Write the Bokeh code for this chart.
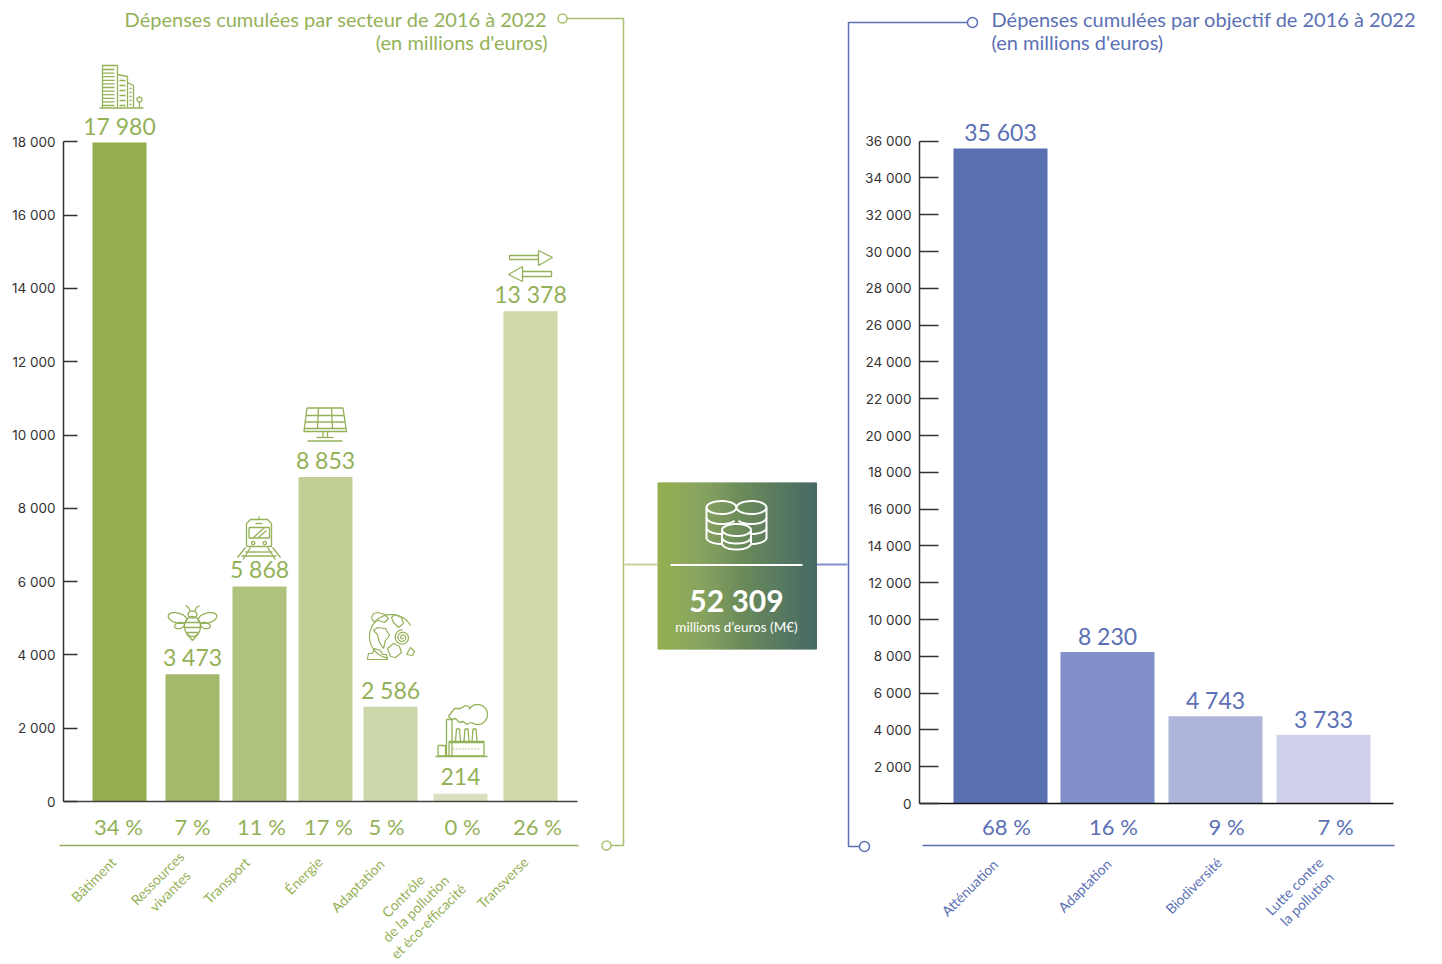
import numpy as np
from bokeh.core.properties import value
from bokeh.embed import file_html
from bokeh.models import FixedTicker, LinearAxis, Range1d
from bokeh.plotting import figure
from bokeh.resources import INLINE

# Spending per sector, millions of euros
sectors = ["Bâtiment", "Ressources\nvivantes", "Transport", "Énergie", "Adaptation",
           "Contrôle\nde la pollution\net éco-efficacité", "Transverse"]
sector_values = [17980, 3473, 5868, 8853, 2586, 214, 13378]
sector_labels = ["17 980", "3 473", "5 868", "8 853", "2 586", "214", "13 378"]
sector_shares = ["34 %", "7 %", "11 %", "17 %", "5 %", "0 %", "26 %"]
sector_ticks = [0, 2000, 4000, 6000, 8000, 10000, 12000, 14000, 16000, 18000]

# Spending per objective, millions of euros
objectives = ["Atténuation", "Adaptation", "Biodiversité", "Lutte contre\nla pollution"]
objective_values = [35603, 8230, 4743, 3733]
objective_labels = ["35 603", "8 230", "4 743", "3 733"]
objective_shares = ["68 %", "16 %", "9 %", "7 %"]
objective_ticks = list(range(0, 36001, 2000))

total_label = "52 309"

W, H = 1442, 964
GREEN, BLUE = "#94b158", "#5b70b5"
FONT = "Lato"
TICK_FONT = "Inter"
sector_colors = ["#94ae4f", "#a5b96c", "#b0c37e", "#c1cf97", "#cbd6a9", "#d9e0c0", "#d0d7a9"]
objective_colors = ["#5b6fb3", "#8190c8", "#afb4da", "#cfd1ea"]

# Layout in page pixels
sector_x = [119, 192, 259, 325, 390, 460, 530]
sector_share_x = [118, 192, 261, 328, 386, 462, 537]
sector_name_x = [93, 163, 226, 303, 357, 415, 502]
sector_name_y = [879, 884, 880, 875, 885, 908, 882]
objective_x = [1000, 1107, 1215, 1323]
objective_share_x = [1006, 1113, 1226, 1335]
objective_name_x = [969, 1084, 1193, 1300]
objective_name_y = [887, 885, 885, 892]
LEFT_ZERO, LEFT_SCALE = 801, 0.03665
RIGHT_ZERO, RIGHT_SCALE = 803, 0.0184

p = figure(width=W, height=H, output_backend="svg", toolbar_location=None,
           x_range=Range1d(0, W), y_range=Range1d(H, 0),
           x_axis_location=None, y_axis_location=None,
           min_border=0, min_border_left=0, min_border_right=0,
           min_border_top=0, min_border_bottom=0, outline_line_color=None)
p.grid.visible = False
p.extra_y_ranges = {
    "sector": Range1d((LEFT_ZERO - H) / LEFT_SCALE, LEFT_ZERO / LEFT_SCALE),
    "objective": Range1d((RIGHT_ZERO - H) / RIGHT_SCALE, RIGHT_ZERO / RIGHT_SCALE),
}


def add_axis(name, ticks, x, tick_len, color):
    axis = LinearAxis(y_range_name=name, fixed_location=x, bounds=(ticks[0], ticks[-1]),
                      ticker=FixedTicker(ticks=ticks),
                      major_label_overrides={t: f"{t:,}".replace(",", " ") for t in ticks},
                      major_tick_in=tick_len, major_tick_out=0, minor_tick_in=0, minor_tick_out=0,
                      axis_line_color=color, axis_line_width=1.5,
                      major_tick_line_color=color, major_tick_line_width=1.5,
                      major_label_text_color="#333333", major_label_text_font=TICK_FONT,
                      major_label_text_font_size="13.5px", major_label_standoff=8)
    p.add_layout(axis, "left")


def text(x, y, s, color, size, align="center", baseline="middle", **kw):
    p.text(x=x, y=y, text=s, text_color=color, text_font_size=size, text_align=align,
           text_baseline=baseline, text_font=value(kw.pop("font", FONT)), **kw)


# Bars, their value labels and baselines
p.vbar(x=sector_x, bottom=0, top=sector_values, width=54, color=sector_colors,
       line_color=None, y_range_name="sector")
p.vbar(x=objective_x, bottom=0, top=objective_values, width=94, color=objective_colors,
       line_color=None, y_range_name="objective")
text(sector_x, sector_values, sector_labels, GREEN, "23px", y_range_name="sector", y_offset=-17)
text(objective_x, objective_values, objective_labels, BLUE, "23px",
     y_range_name="objective", y_offset=-16)
p.segment(x0=[63], x1=[577], y0=[0], y1=[0], line_color="#444444", line_width=1.5, y_range_name="sector")
p.segment(x0=[919], x1=[1393], y0=[0], y1=[0], line_color="#111111", line_width=1.5, y_range_name="objective")
add_axis("sector", sector_ticks, 63, 14, "#333333")
add_axis("objective", objective_ticks, 919, 19, "#333333")

# Shares and rotated category names
text(sector_share_x, [826] * 7, sector_shares, GREEN, "22px")
text(objective_share_x, [826] * 4, objective_shares, BLUE, "22px")
text(sector_name_x, sector_name_y, sectors, GREEN, "14px", angle=45, angle_units="deg", text_line_height=1.05)
text(objective_name_x, objective_name_y, objectives, BLUE, "14px", angle=45, angle_units="deg", text_line_height=1.05)

# Titles
text([547, 547], [18, 41], ["Dépenses cumulées par secteur de 2016 à 2022", "(en millions d'euros)"],
     GREEN, "20px", align="right")
text([991, 991], [18, 41], ["Dépenses cumulées par objectif de 2016 à 2022", "(en millions d'euros)"],
     BLUE, "20px", align="left")

# Brackets joining the titles to the total
p.line([566, 623, 623, 611], [18, 18, 845, 845], line_color="#a9c06f", line_width=1.5)
p.line([967, 848, 848, 859], [22, 22, 846, 846], line_color=BLUE, line_width=1.5)
p.segment([59, 922], [845, 845], [578, 1394], [845, 845], line_color=[GREEN, BLUE], line_width=1.5)
p.segment([624], [564], [657], [564], line_color="#c5d39a", line_width=2)
p.segment([816], [564], [847], [564], line_color="#7f8fc9", line_width=2)
p.circle([562, 606], [18, 845], radius=4.5, fill_color="white", line_color="#a9c06f", line_width=1.5)
p.circle([972, 864], [22, 846], radius=5, fill_color="white", line_color=BLUE, line_width=1.5)

# Central box with a horizontal gradient
steps = np.linspace(0, 1, 160)
start, stop = np.array([0x94, 0xb0, 0x4e]), np.array([0x48, 0x6b, 0x66])
grad = [tuple(int(c) for c in start + (stop - start) * t) for t in steps]
box_x = np.linspace(657, 816, 161)
p.quad(left=box_x[:-1], right=box_x[1:] + 0.5, top=482, bottom=649,
       fill_color=[f"#{r:02x}{g:02x}{b:02x}" for r, g, b in grad], line_color=None)
p.segment([670], [564.5], [802], [564.5], line_color="white", line_width=2)
text([736], [599], [total_label], "white", "30px", font_style="bold")
text([736], [626], ["millions d’euros (M€)"], "white", "13.5px")


# Pictogram helpers: every shape is a polyline in page pixels
def ell(cx, cy, rx, ry=None, a0=0, a1=360, rot=0):
    ry = rx if ry is None else ry
    t = np.radians(np.linspace(a0, a1, 40))
    x, y = rx * np.cos(t), ry * np.sin(t)
    r = np.radians(rot)
    return list(cx + x * np.cos(r) - y * np.sin(r)), list(cy + x * np.sin(r) + y * np.cos(r))


def seg(*pts):
    return [q[0] for q in pts], [q[1] for q in pts]


def rect(x0, y0, x1, y1):
    return seg((x0, y0), (x1, y0), (x1, y1), (x0, y1), (x0, y0))


def draw(shapes, color=GREEN, width=1.3):
    p.multi_line([s[0] for s in shapes], [s[1] for s in shapes], line_color=color, line_width=width)


building = [seg((99, 107.5), (143, 107.5)), seg((102, 107), (102, 65), (117, 65), (117, 107)),
            seg((117, 74), (127, 76), (127, 107)), seg((127, 82), (133, 85), (133, 107)),
            ell(139, 99, 2.5), seg((139, 101.5), (139, 107))]
building += [seg((102, y), (114, y)) for y in np.arange(69, 106, 3.6)]
building += [seg((119, y), (125, y)) for y in np.arange(80, 106, 5)]
building += [seg((129, y), (131, y)) for y in np.arange(88, 106, 4)]
draw(building)

bee = [ell(192, 626, 8, 10), seg((186, 633), (192, 640), (198, 633)), ell(192, 614, 4.5, 3.5),
       seg((185, 622), (199, 622)), seg((184.5, 627), (199.5, 627)), seg((186, 632), (198, 632)),
       seg((190, 611), (188, 607), (185, 605)), seg((194, 611), (196, 607), (199, 605)),
       ell(177, 617.5, 9.5, 5, rot=15), ell(207, 617.5, 9.5, 5, rot=-15),
       ell(179, 625, 5, 3, rot=-15), ell(205, 625, 5, 3, rot=15)]
draw(bee)

train = [seg((246, 546), (246, 523), (250, 519), (267, 519), (271, 523), (271, 546), (246, 546)),
         seg((258.5, 516), (258.5, 519)), seg((255, 523), (262, 523)), rect(248.5, 527, 269, 537.5),
         seg((253, 537), (264, 527)), seg((258, 537), (266, 530)),
         ell(252.7, 542.5, 1.6), ell(264.3, 542.5, 1.6),
         seg((245, 547), (237, 557)), seg((272, 547), (280, 557)),
         seg((250, 547), (242.5, 559)), seg((267, 547), (275, 559)),
         seg((245, 551.5), (272, 551.5)), seg((241, 555.5), (276, 555.5))]
draw(train)

solar = [seg((306.5, 407.5), (342.5, 407.5), (346, 431), (303.5, 431), (306.5, 407.5)),
         seg((305.5, 415), (343.5, 415)), seg((304.5, 421.5), (344.5, 421.5)), seg((304, 428), (345, 428)),
         seg((318, 407.5), (317, 428)), seg((331, 407.5), (332, 428)),
         seg((322.5, 431), (322.5, 437)), seg((327, 431), (327, 437)), seg((316, 437), (333, 437)),
         seg((307, 440.5), (342, 440.5))]
draw(solar)

spiral_t = np.linspace(0, 5.5 * np.pi, 90)
spiral = (list(402 + (0.5 + spiral_t * 0.43) * np.cos(spiral_t)), list(637 + (0.5 + spiral_t * 0.43) * np.sin(spiral_t)))
globe = [ell(391, 636, 22, 22, 100, 330), spiral,
         seg((371, 617), (373, 613), (378, 612), (384, 614), (388, 618), (384, 622), (378, 620), (373, 621), (371, 617)),
         seg((394, 614), (401, 617), (403, 623), (398, 627), (393, 622), (391, 617), (394, 614)),
         seg((377, 627), (385, 628), (389, 635), (385, 640), (383, 648), (379, 642), (377, 634), (373, 630), (377, 627)),
         seg((387, 648), (393, 643), (399, 646), (401, 652), (395, 657), (390, 656), (387, 648)),
         seg((367, 658), (368, 653), (372, 653), (374, 648), (380, 650), (382, 654), (386, 654), (387, 659), (367, 659), (367, 658)),
         seg((406, 654), (410, 647), (414, 651), (412, 655), (406, 654))]
draw(globe, width=1.2)

smoke = [ell(477, 714, 10, 10, -150, 130),
         seg((470, 722), (466, 724), (463, 721), (459, 722), (455, 718), (451, 719), (448, 716)),
         seg((470, 707), (465, 705), (460, 708), (454, 708), (451, 712), (448, 716))]
factory = [seg((435, 756), (487, 756)), rect(448.5, 742, 483.5, 755.5), rect(437.5, 745, 445, 755.5),
           rect(446, 719, 451.5, 755.5), seg((448, 741), (484, 741)),
           seg((455, 741), (456, 728.5), (459, 728.5), (460, 741)),
           seg((463.5, 741), (464.5, 728.5), (467.5, 728.5), (468.5, 741)),
           seg((471.5, 741), (472.5, 728.5), (475.5, 728.5), (476.5, 741))]
factory += [seg((x, 748.3), (x + 1, 748.3)) for x in np.arange(453, 480, 3)]
draw(smoke + factory)

arrows = [seg((538, 255), (509, 255), (509, 259), (538, 259)), seg((538, 250), (552, 257), (538, 265), (538, 250)),
          seg((522, 271), (551, 271), (551, 276), (522, 276)), seg((522, 266), (508, 274), (522, 281), (522, 266))]
draw(arrows)

coins = [ell(721, 507, 15, 6.5), ell(751, 507, 15, 6.5), ell(736, 529.5, 14.5, 6),
         seg((706, 507), (706, 538)), seg((766, 507), (766, 538)),
         seg((721.5, 530), (721.5, 543)), seg((750.5, 530), (750.5, 543)),
         ell(736, 537, 14.5, 6, 0, 180), ell(736, 543, 14.5, 6, 0, 180),
         ell(721, 517, 15, 6.5, 30, 180), ell(751, 517, 15, 6.5, 0, 150),
         ell(721, 527, 15, 6.5, 90, 180), ell(751, 527, 15, 6.5, 0, 90),
         ell(721, 537, 15, 6.5, 90, 180), ell(751, 537, 15, 6.5, 0, 90)]
draw(coins, color="white", width=2)

open("out.html", "w").write(file_html(p, INLINE))
